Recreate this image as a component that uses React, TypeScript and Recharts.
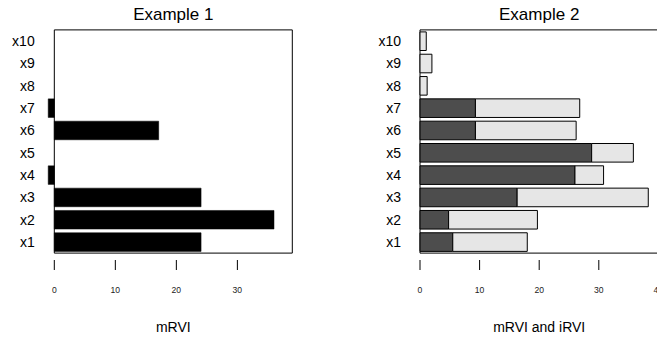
import React from 'react';
import { BarChart, Bar, XAxis, YAxis, ReferenceArea } from 'recharts';

const categories = ['x1', 'x2', 'x3', 'x4', 'x5', 'x6', 'x7', 'x8', 'x9', 'x10'];
const example1Mrvi = [24.05, 36.0, 24.05, -1.0, 0, 17.1, -1.0, 0, 0, 0];
const example2Mrvi = [5.5, 4.8, 16.3, 26.0, 28.8, 9.3, 9.3, 0, 0, 0];
const example2Irvi = [12.5, 14.9, 22.0, 4.8, 7.0, 16.9, 17.5, 1.2, 2.0, 1.05];
const ticks1 = [0, 10, 20, 30];
const ticks2 = [0, 10, 20, 30, 40];

const data1 = categories.map((name, i) => ({ name, mRVI: example1Mrvi[i] }));
const data2 = categories.map((name, i) => ({ name, mRVI: example2Mrvi[i], iRVI: example2Irvi[i] }));

const FONT = '"Liberation Sans", Arial, Helvetica, sans-serif';

const XTick = (props: any) => {
  const { x, y, payload } = props;
  return (
    <g>
      <line x1={x} x2={x} y1={y} y2={y + 10} stroke="#000" strokeWidth={1} />
      <text x={x} y={y + 33} textAnchor="middle" fontSize={8.6} fontFamily={FONT} fill="#222">
        {payload.value}
      </text>
    </g>
  );
};

const yTickStyle = { fontSize: 14, fill: '#000', fontFamily: FONT };

export default function App() {
  return (
    <div style={{ position: 'absolute', left: 0, top: 0, width: 657, height: 339, overflow: 'hidden', background: '#fff' }}>
      <div style={{ position: 'absolute', left: 0, top: 0 }}>
        <BarChart width={330} height={339} data={data1} layout="vertical"
          margin={{ top: 23, right: 37.7, bottom: 49, left: 0 }}>
          <XAxis type="number" domain={[-1.1, 39]} ticks={ticks1} interval={0} height={30}
            axisLine={false} tickLine={false} tickSize={0} tickMargin={0} tick={<XTick />} />
          <YAxis type="category" dataKey="name" reversed width={47.6} padding={{ top: 6.9, bottom: 6.9 }}
            axisLine={false} tickLine={false} tickSize={0} tickMargin={12.9} interval={0} tick={yTickStyle} />
          <ReferenceArea x1={0} x2={39} ifOverflow="visible" fill="none" fillOpacity={0} stroke="#000" strokeWidth={1} />
          <Bar dataKey="mRVI" fill="#000" stroke="#000" strokeWidth={0.5} barSize={18.6} isAnimationActive={false} />
        </BarChart>
      </div>
      <div style={{ position: 'absolute', left: 330, top: 0 }}>
        <BarChart width={340} height={339} data={data2} layout="vertical"
          margin={{ top: 23, right: 11.6, bottom: 49, left: 0 }}>
          <XAxis type="number" domain={[0, 40]} ticks={ticks2} interval={0} height={30}
            axisLine={false} tickLine={false} tickSize={0} tickMargin={0} tick={<XTick />} />
          <YAxis type="category" dataKey="name" reversed width={90} padding={{ top: 6.9, bottom: 6.9 }}
            axisLine={false} tickLine={false} tickSize={0} tickMargin={19} interval={0} tick={yTickStyle} />
          <ReferenceArea x1={0} x2={40} ifOverflow="visible" fill="none" fillOpacity={0} stroke="#000" strokeWidth={1} />
          <Bar dataKey="mRVI" stackId="a" fill="#4d4d4d" stroke="#000" strokeWidth={1} barSize={18.6} isAnimationActive={false} />
          <Bar dataKey="iRVI" stackId="a" fill="#e6e6e6" stroke="#000" strokeWidth={1} barSize={18.6} isAnimationActive={false} />
        </BarChart>
      </div>
      <svg width={657} height={339} style={{ position: 'absolute', left: 0, top: 0, pointerEvents: 'none' }}>
        <text x={173.3} y={20} textAnchor="middle" fontSize={17} fontFamily={FONT} fill="#000">Example 1</text>
        <text x={539.2} y={20} textAnchor="middle" fontSize={17} fontFamily={FONT} fill="#000">Example 2</text>
        <text x={173.3} y={332} textAnchor="middle" fontSize={14} fontFamily={FONT} fill="#000">mRVI</text>
        <text x={539.2} y={332} textAnchor="middle" fontSize={14} fontFamily={FONT} fill="#000">mRVI and iRVI</text>
      </svg>
    </div>
  );
}
